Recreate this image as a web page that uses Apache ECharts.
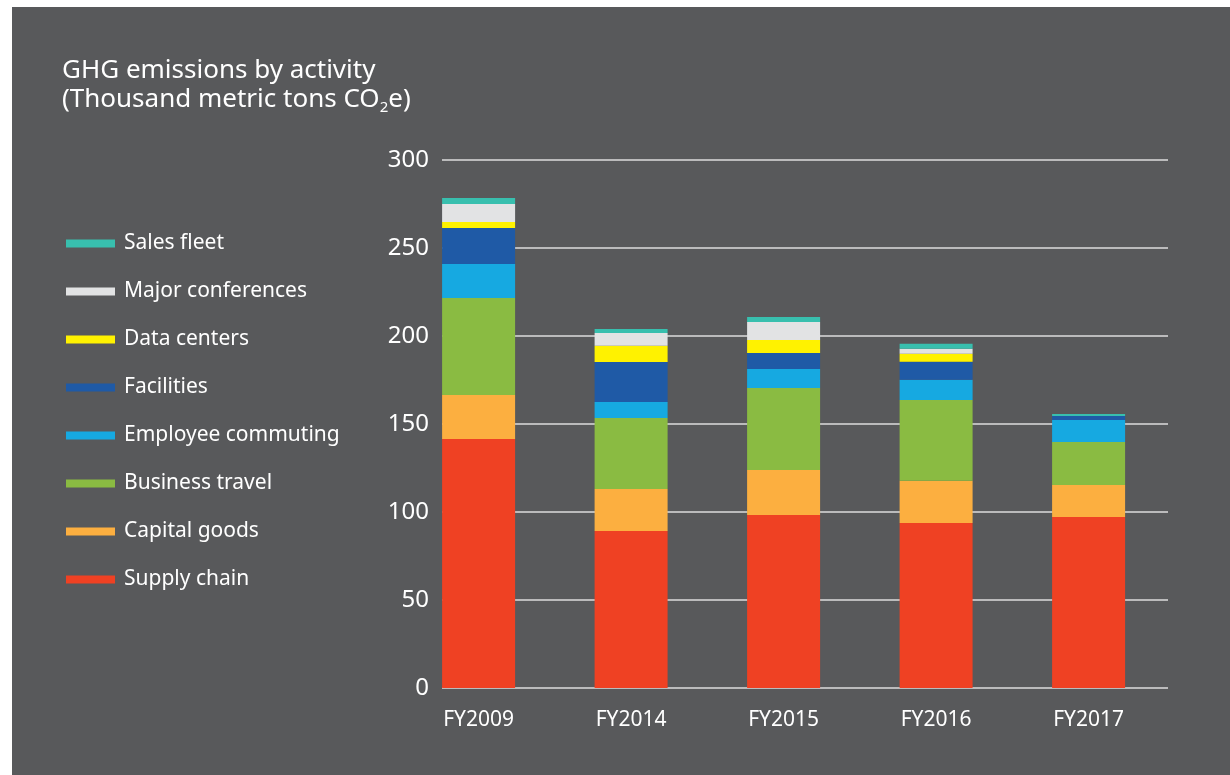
<!DOCTYPE html>
<html>
<head>
<meta charset="utf-8">
<script src="https://cdn.jsdelivr.net/npm/echarts@6/dist/echarts.min.js"></script>
<style>
  html, body { margin: 0; padding: 0; background: #ffffff; width: 1230px; height: 775px; overflow: hidden; }
  #c { position: absolute; left: 12px; top: 7px; width: 1218px; height: 768px; }
</style>
</head>
<body>
<div id="c"></div>
<script>
// ---- data ----
const categories = ['FY2009', 'FY2014', 'FY2015', 'FY2016', 'FY2017'];
const seriesNames = ['Supply chain', 'Capital goods', 'Business travel', 'Employee commuting', 'Facilities', 'Data centers', 'Major conferences', 'Sales fleet'];
const supplyChain       = [141.5, 89.2, 98.3, 93.8, 97.2];
const capitalGoods      = [25.0, 23.9, 25.6, 23.9, 18.1];
const businessTravel    = [55.1, 40.3, 46.6, 46.0, 24.5];
const employeeCommuting = [19.3, 9.1, 10.8, 11.4, 12.5];
const facilities        = [20.5, 22.7, 9.0, 10.2, 2.2];
const dataCenters       = [3.4, 9.3, 7.4, 4.6, 0];
const majorConferences  = [10.2, 7.2, 10.3, 2.8, 0];
const salesFleet        = [3.4, 2.3, 2.8, 2.9, 1.2];
const yTicks = [0, 50, 100, 150, 200, 250, 300];

const values = [supplyChain, capitalGoods, businessTravel, employeeCommuting, facilities, dataCenters, majorConferences, salesFleet];
const colors = ['#ef4123', '#fcaf40', '#8abb42', '#16a9e1', '#1f5aa6', '#fff200', '#e2e3e4', '#38bfae'];

const FONT = '"Noto Sans", "Open Sans", sans-serif';

const chart = echarts.init(document.getElementById('c'), null, { renderer: 'canvas' });

const series = seriesNames.map((name, k) => ({
  name: name,
  type: 'bar',
  stack: 'total',
  barWidth: 73,
  xAxisIndex: 0,
  yAxisIndex: 0,
  itemStyle: { color: colors[k] },
  emphasis: { disabled: true },
  data: values[k]
}));

const yMin = yTicks[0], yMax = yTicks[yTicks.length - 1], yStep = yTicks[1] - yTicks[0];

chart.setOption({
  backgroundColor: '#58595b',
  animation: false,
  textStyle: { fontFamily: FONT },
  title: {
    left: 50,
    top: 49,
    padding: 0,
    text: 'GHG emissions by activity\n(Thousand metric tons CO{sub|2}e)',
    textStyle: {
      color: '#ffffff',
      fontFamily: FONT,
      fontWeight: 'normal',
      fontSize: 26,
      lineHeight: 29,
      rich: {
        sub: { fontSize: 15, color: '#ffffff', fontFamily: FONT, padding: [16, 0, 0, 0] }
      }
    }
  },
  legend: {
    orient: 'vertical',
    left: 49,
    top: 221,
    itemWidth: 49,
    itemHeight: 8,
    itemGap: 27,
    icon: 'rect',
    data: seriesNames.slice().reverse(),
    selectedMode: false,
    textStyle: { color: '#ffffff', fontSize: 21, fontFamily: FONT, lineHeight: 21, padding: [0, 0, 0, 4] }
  },
  grid: [
    { left: 390.35, right: 65.15, top: 153, bottom: 87 },
    { left: 430, right: 62, top: 153, bottom: 87 }
  ],
  xAxis: [
    {
      type: 'category',
      gridIndex: 0,
      data: categories,
      boundaryGap: true,
      axisLine: { show: false },
      axisTick: { show: false },
      splitLine: { show: false },
      axisLabel: { color: '#ffffff', fontSize: 21, fontFamily: FONT, margin: 22 }
    },
    { type: 'value', gridIndex: 1, min: 0, max: 1, show: false }
  ],
  yAxis: [
    {
      type: 'value', gridIndex: 0, min: yMin, max: yMax, interval: yStep,
      axisLine: { show: false }, axisTick: { show: false }, axisLabel: { show: false }, splitLine: { show: false }
    },
    {
      type: 'value', gridIndex: 1, min: yMin, max: yMax, interval: yStep,
      axisLine: { show: false },
      axisTick: { show: false },
      splitLine: { show: true, lineStyle: { color: '#dcdcdc', width: 1.5 } },
      axisLabel: { color: '#ffffff', fontSize: 24, fontFamily: FONT, margin: 13 }
    }
  ],
  series: series
});
</script>
</body>
</html>
